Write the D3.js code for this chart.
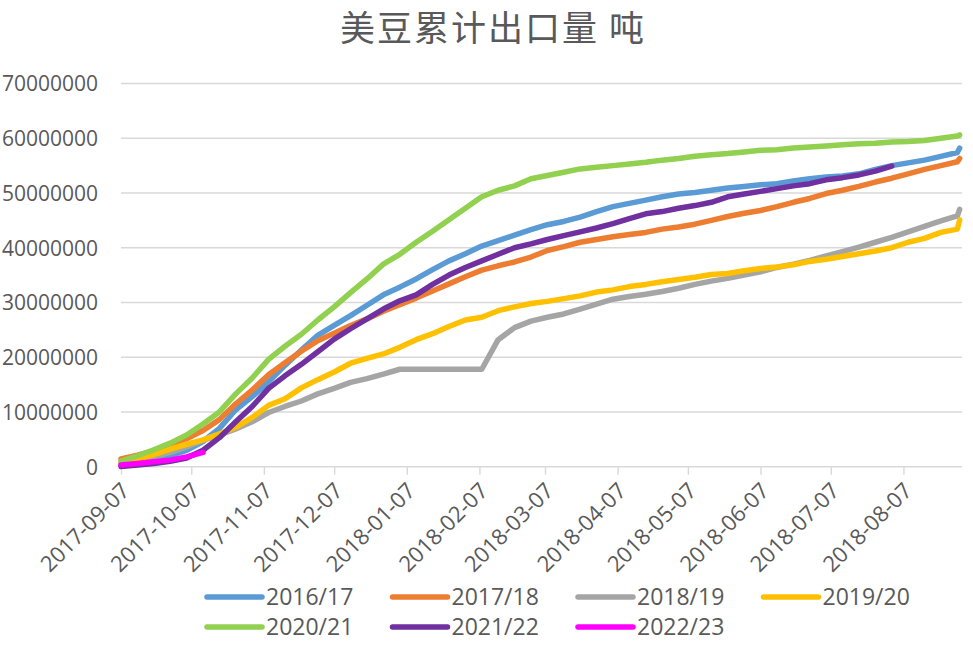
<!DOCTYPE html>
<html><head><meta charset="utf-8">
<script src="https://cdn.jsdelivr.net/npm/d3@7"></script>
<style>
html,body{margin:0;padding:0;background:#fff;}
svg{display:block;}
text{font-family:"Open Sans","Noto Sans",sans-serif;fill:#595959;}
</style></head>
<body>
<svg id="chart" width="973" height="647"></svg>
<script>
const title = "美豆累计出口量 吨";
const dates = ["2017-09-07","2017-09-14","2017-09-21","2017-09-28","2017-10-05","2017-10-12","2017-10-19","2017-10-26",
"2017-11-02","2017-11-09","2017-11-16","2017-11-23","2017-11-30","2017-12-07","2017-12-14","2017-12-21","2017-12-28",
"2018-01-04","2018-01-11","2018-01-18","2018-01-25","2018-02-01","2018-02-08","2018-02-15","2018-02-22",
"2018-03-01","2018-03-08","2018-03-15","2018-03-22","2018-03-29","2018-04-05","2018-04-12","2018-04-19","2018-04-26",
"2018-05-03","2018-05-10","2018-05-17","2018-05-24","2018-05-31","2018-06-07","2018-06-14","2018-06-21","2018-06-28",
"2018-07-05","2018-07-12","2018-07-19","2018-07-26","2018-08-02","2018-08-09","2018-08-16","2018-08-23","2018-08-30","2018-08-31"];
const tickLabels = ["2017-09-07","2017-10-07","2017-11-07","2017-12-07","2018-01-07","2018-02-07","2018-03-07",
"2018-04-07","2018-05-07","2018-06-07","2018-07-07","2018-08-07"];
const yTicks = [0,10000000,20000000,30000000,40000000,50000000,60000000,70000000];
const seriesNames = ["2016/17","2017/18","2018/19","2019/20","2020/21","2021/22","2022/23"];
const seriesColors = ["#5B9BD5","#ED7D31","#A5A5A5","#FFC000","#92D050","#7030A0","#FF00FF"];
// values in million tonnes
const s2016 = [0.6,1.0,1.4,2.0,3.0,4.6,7.0,10.4,12.8,15.5,18.5,21.3,24.0,25.8,27.6,29.5,31.4,32.8,34.3,36.0,37.6,38.9,40.3,41.3,42.3,43.3,44.2,44.8,45.6,46.6,47.5,48.1,48.7,49.3,49.8,50.1,50.5,50.9,51.2,51.5,51.7,52.2,52.6,52.9,53.1,53.5,54.3,55.0,55.5,56.0,56.7,57.4,58.2];
const s2017 = [1.4,2.1,2.9,3.8,5.1,6.6,8.6,11.5,14.0,16.8,19.0,21.1,23.0,24.4,25.8,27.0,28.4,29.6,30.8,32.1,33.4,34.7,35.9,36.7,37.4,38.3,39.5,40.2,41.0,41.5,42.0,42.4,42.8,43.4,43.8,44.3,45.0,45.7,46.3,46.8,47.5,48.3,49.0,49.9,50.5,51.2,52.0,52.7,53.5,54.3,55.0,55.7,56.3];
const s2018 = [0.3,1.0,1.8,2.6,3.6,4.8,5.8,6.9,8.2,9.9,11.0,12.0,13.3,14.3,15.4,16.1,16.9,17.8,17.8,17.8,17.8,17.8,17.8,23.2,25.4,26.6,27.3,27.9,28.8,29.7,30.6,31.1,31.5,32.0,32.6,33.3,33.9,34.4,35.0,35.6,36.4,37.0,37.7,38.5,39.3,40.1,41.0,41.9,42.9,43.9,44.9,45.8,47.0];
const s2019 = [0.5,1.4,2.2,3.2,4.1,4.9,6.0,7.2,9.0,11.2,12.4,14.4,15.9,17.3,18.9,19.8,20.6,21.8,23.2,24.3,25.6,26.8,27.3,28.5,29.2,29.8,30.2,30.7,31.2,31.9,32.3,32.9,33.3,33.8,34.2,34.6,35.1,35.3,35.8,36.2,36.5,36.9,37.5,37.9,38.4,38.9,39.4,40.0,41.0,41.7,42.8,43.4,45.1];
const s2020 = [1.0,2.0,3.1,4.3,5.8,7.8,10.0,13.3,16.2,19.6,22.0,24.2,26.8,29.2,31.8,34.3,37.0,38.8,41.0,43.0,45.1,47.2,49.3,50.5,51.3,52.6,53.2,53.8,54.4,54.7,55.0,55.3,55.6,56.0,56.3,56.7,57.0,57.2,57.5,57.8,57.9,58.2,58.4,58.6,58.8,59.0,59.1,59.3,59.4,59.6,60.0,60.4,60.6];
const s2021 = [0.05,0.3,0.6,1.0,1.6,3.0,5.3,8.2,11.0,14.3,16.6,18.7,21.0,23.3,25.2,27.0,28.8,30.3,31.4,33.3,35.0,36.4,37.6,38.8,40.0,40.7,41.5,42.2,42.9,43.6,44.4,45.3,46.2,46.6,47.2,47.7,48.3,49.3,49.8,50.3,50.8,51.3,51.7,52.4,52.8,53.3,54.0,54.9];
const s2022 = [0.3,0.6,0.9,1.2,1.8,2.6];
const seriesValues = [s2016,s2017,s2018,s2019,s2020,s2021,s2022];

const parse = d3.timeParse("%Y-%m-%d");
const svg = d3.select("#chart");
const x = d3.scaleTime().domain([parse("2017-09-07"), parse("2018-09-01")]).range([121, 962]);
const y = d3.scaleLinear().domain([0, 70000000]).range([466.7, 83.5]);

svg.append("text").attr("x", 493).attr("y", 41).attr("text-anchor","middle")
  .style("font-family",'"Noto Sans CJK SC","Noto Sans",sans-serif').style("font-size","35px")
  .style("letter-spacing","2px").text(title);

// gridlines
svg.append("g").selectAll("line").data(yTicks.slice(1)).join("line")
  .attr("x1", 121).attr("x2", 962).attr("y1", d => y(d)).attr("y2", d => y(d))
  .attr("stroke", "#d9d9d9").attr("stroke-width", 1.4);

// y axis labels
const yAxis = d3.axisLeft(y).tickValues(yTicks).tickSize(0).tickPadding(0).tickFormat(d3.format("d"));
const gy = svg.append("g").attr("transform","translate(98,0)").call(yAxis);
gy.select(".domain").remove();
gy.selectAll("text").style("font-size","21px").style("font-family",'"Open Sans",sans-serif').attr("fill","#595959").attr("dy","0.35em");

// x axis
const xAxis = d3.axisBottom(x).tickValues(tickLabels.map(parse)).tickSize(8).tickFormat(d3.timeFormat("%Y-%m-%d"));
const gx = svg.append("g").attr("transform", `translate(0,${y(0)})`).call(xAxis);
gx.select(".domain").attr("stroke","#d9d9d9").attr("stroke-width",1.4).attr("d", `M121,0H962`);
gx.selectAll(".tick line").attr("stroke","#d9d9d9").attr("stroke-width",1.4);
gx.selectAll(".tick text").style("font-size","22px").style("font-family",'"Open Sans",sans-serif').attr("fill","#595959")
  .attr("text-anchor","end").attr("dy","0.35em").attr("y",0)
  .attr("transform","translate(4,20) rotate(-45)");

// lines
const line = d3.line().x((d,i) => x(parse(dates[i]))).y(d => y(d*1e6));
const gl = svg.append("g");
seriesValues.forEach((vals, si) => {
  gl.append("path").datum(vals).attr("d", line).attr("fill","none")
    .attr("stroke", seriesColors[si]).attr("stroke-width", 5.5)
    .attr("stroke-linejoin","round").attr("stroke-linecap","round");
});

// legend
const lg = svg.append("g");
seriesNames.forEach((n, i) => {
  const col = i % 4, row = Math.floor(i / 4);
  const lx = 207 + col * 185.5, ly = 597 + row * 30;
  lg.append("line").attr("x1", lx).attr("x2", lx + 55).attr("y1", ly).attr("y2", ly)
    .attr("stroke", seriesColors[i]).attr("stroke-width", 5.5).attr("stroke-linecap","round");
  lg.append("text").attr("x", lx + 59).attr("y", ly).attr("dy","0.35em")
    .style("font-size","23px").text(n);
});
</script>
</body></html>
